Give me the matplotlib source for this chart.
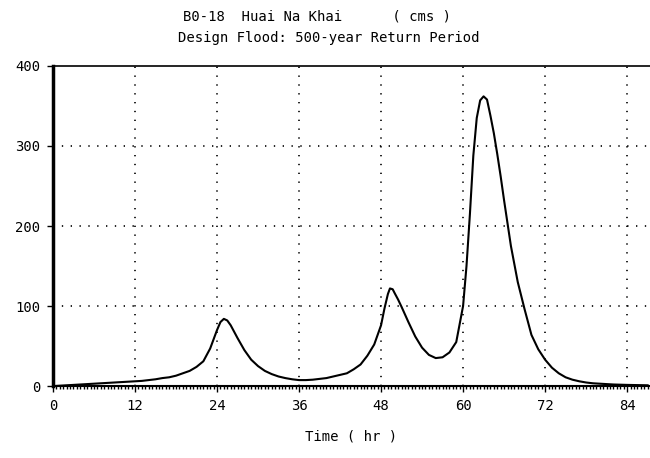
"""Design flood hydrograph B0-18 Huai Na Khai, 500-year return period."""
import matplotlib
matplotlib.use('Agg')
import matplotlib.pyplot as plt
from matplotlib.ticker import MultipleLocator

# hydrograph (time in hr, discharge in cms)
time_hr = [0, 1, 2, 3, 4, 5, 6, 7, 8, 9, 10, 11, 12, 13, 14, 15, 16, 17, 18, 19,
           20, 21, 22, 23, 24, 24.5, 25, 25.5, 26, 27, 28, 29, 30, 31, 32, 33, 34, 35,
           36, 37, 38, 39, 40, 41, 42, 43, 44, 45, 46, 47, 48, 48.5, 49, 49.3, 49.7,
           50, 50.5, 51, 52, 53, 54, 55, 56, 57, 58, 59, 60, 60.5, 61, 61.5, 62, 62.5,
           63, 63.5, 64, 64.5, 65, 65.5, 66, 67, 68, 69, 70, 71, 72, 73, 74, 75, 76,
           77, 78, 79, 80, 82, 84, 87]
flow_cms = [0, 0.5, 1, 1.5, 2, 2.5, 3, 3.5, 4, 4.5, 5, 5.5, 6, 6.5, 7.5, 8.5, 10, 11, 13, 16,
            19, 24, 31, 47, 70, 80, 84, 82, 76, 60, 45, 33, 25, 19, 15, 12, 10, 8.5,
            7.5, 7.5, 8, 9, 10, 12, 14, 16, 21, 27, 38, 52, 76, 97, 115, 122, 121,
            116, 108, 99, 80, 62, 48, 39, 35, 36, 42, 55, 100, 150, 215, 288, 335, 357,
            362, 358, 338, 316, 290, 262, 232, 175, 130, 96, 64, 46, 33, 23, 16, 11, 8,
            6, 4.5, 3.5, 3, 2, 1.5, 1]

title1 = 'B0-18  Huai Na Khai      ( cms )'
title2 = 'Design Flood: 500-year Return Period'
x_ticks = [0, 12, 24, 36, 48, 60, 72, 84]
y_ticks = [0, 100, 200, 300, 400]

plt.rcParams['font.family'] = ['DejaVu Sans Mono']
plt.rcParams['font.size'] = 10

fig = plt.figure(figsize=(6.5, 4.58), dpi=100)
ax = fig.add_axes([0.0815, 0.157, 0.918, 0.699])

ax.plot(time_hr, flow_cms, color='black', lw=1.5)

ax.set_xlim(0, 87.3)
ax.set_ylim(0, 400)
ax.set_xticks(x_ticks)
ax.set_yticks(y_ticks)
ax.xaxis.set_minor_locator(MultipleLocator(0.5))

# dotted grid on the interior lines
for x in x_ticks[1:]:
    ax.axvline(x, color='black', lw=1.2, dashes=(0.8, 4.5))
for y in y_ticks[1:-1]:
    ax.axhline(y, color='black', lw=1.2, dashes=(0.8, 4.5))

ax.spines['right'].set_visible(False)
ax.spines['left'].set_linewidth(2.5)
ax.spines['bottom'].set_linewidth(1.5)
ax.spines['top'].set_linewidth(1.2)
ax.tick_params(axis='both', which='major', direction='out', length=4, width=1, pad=5)
ax.tick_params(axis='x', which='minor', direction='out', length=2.5, width=1)

ax.set_xlabel('Time ( hr )', labelpad=12)

fig.text(0.282, 0.965, title1, ha='left', va='center', fontsize=10)
fig.text(0.274, 0.917, title2, ha='left', va='center', fontsize=10)

fig.savefig('out.png', dpi=100)
plt.close(fig)
